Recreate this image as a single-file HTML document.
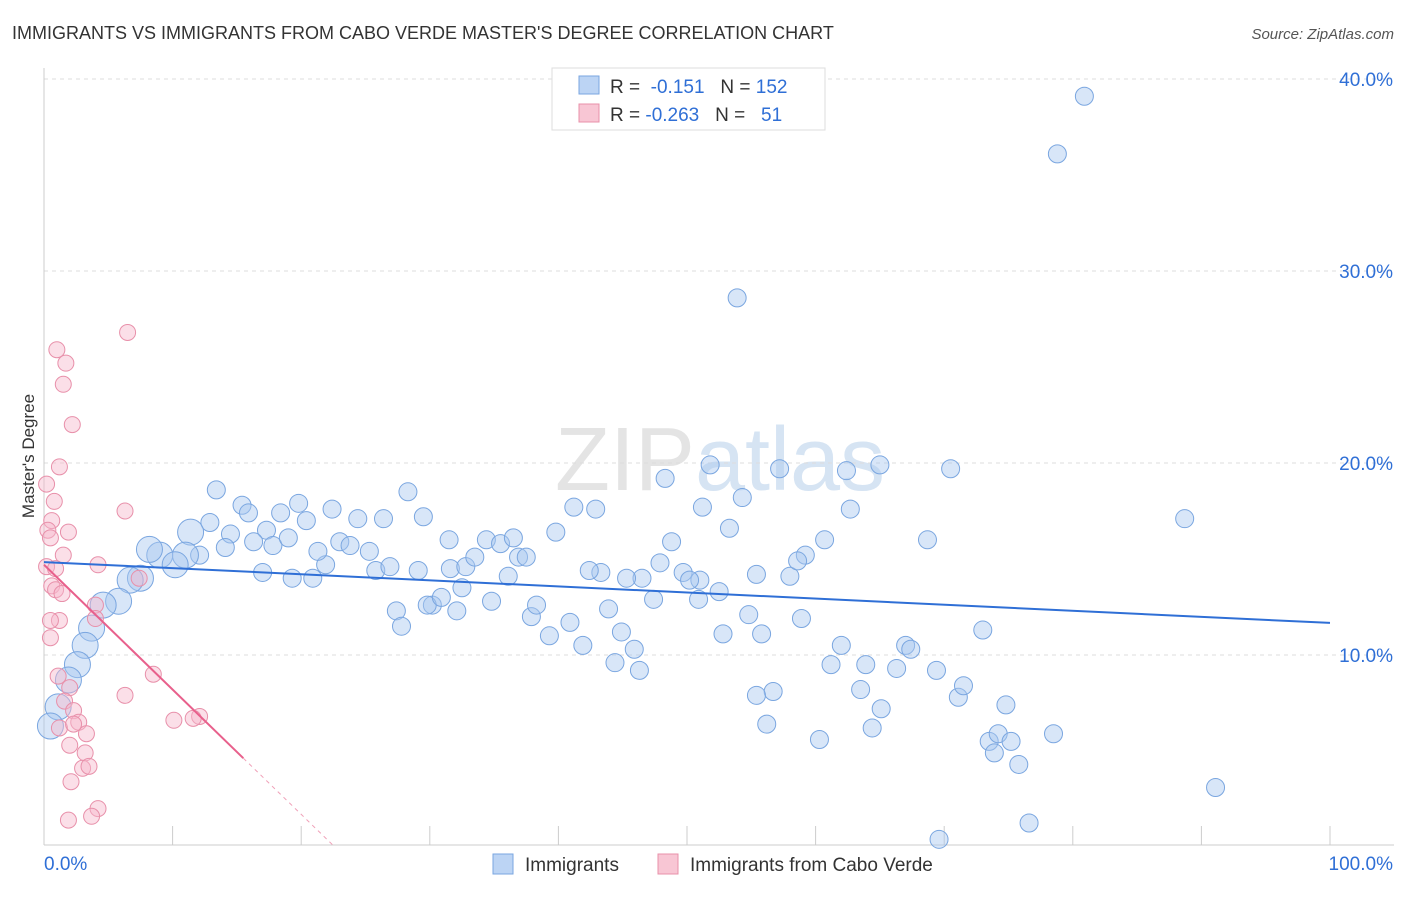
<!DOCTYPE html>
<html><head><meta charset="utf-8"><style>
body{margin:0;background:#fff;font-family:"Liberation Sans",sans-serif}
svg text{font-family:"Liberation Sans",sans-serif}
</style></head><body>
<svg id="chart" width="1406" height="892" viewBox="0 0 1406 892" xmlns="http://www.w3.org/2000/svg">
<text x="12" y="39" font-size="18" fill="#333">IMMIGRANTS VS IMMIGRANTS FROM CABO VERDE MASTER'S DEGREE CORRELATION CHART</text>
<text x="1394" y="39" font-size="15" fill="#555" text-anchor="end" font-style="italic">Source: ZipAtlas.com</text>
<text x="720" y="490" font-size="90" fill="#e4e4e4" text-anchor="middle" font-family="Liberation Serif">ZIP<tspan fill="#d6e4f3" font-family="Liberation Sans">atlas</tspan></text>
<g id="grid"></g>
<g id="axes"></g>
<g id="pts"></g>
<g id="trend"></g>
<text transform="translate(34,456) rotate(-90)" font-size="17" fill="#333" text-anchor="middle">Master's Degree</text>
<g>
<rect x="552" y="68" width="273" height="62" fill="#fff" stroke="#ddd"/>
<rect x="579" y="76" width="20" height="18" fill="#bcd4f4" stroke="#7aa6e0"/>
<rect x="579" y="104" width="20" height="18" fill="#f8c6d4" stroke="#e890aa"/>
<text x="610" y="93" font-size="19" fill="#333">R = <tspan fill="#2f6fd6">&#160;-0.151</tspan>&#160;&#160;&#160;N = <tspan fill="#2f6fd6">152</tspan></text>
<text x="610" y="121" font-size="19" fill="#333">R = <tspan fill="#2f6fd6">-0.263</tspan>&#160;&#160;&#160;N = <tspan fill="#2f6fd6">&#160;&#160;51</tspan></text>
</g>
<g>
<rect x="493" y="854" width="20" height="20" fill="#bcd4f4" stroke="#7aa6e0"/>
<text x="525" y="871" font-size="19" fill="#333">Immigrants</text>
<rect x="658" y="854" width="20" height="20" fill="#f8c6d4" stroke="#e890aa"/>
<text x="690" y="871" font-size="19" fill="#333">Immigrants from Cabo Verde</text>
</g>
</svg>
<script>
const yTicks=[10,20,30,40];
const yTickLabels=["10.0%","20.0%","30.0%","40.0%"];
const xTickLabels=["0.0%","100.0%"];
const blueX=[80.9,78.8,53.9,88.7,91.1,76.6,69.6,51.8,57.2,62.4,65.0,70.5,48.3,51.2,54.3,62.7,53.3,60.7,68.7,41.2,42.9,39.8,48.8,47.9,46.5,51.0,52.5,55.4,58.0,59.2,58.6,49.7,50.2,45.3,43.3,42.4,47.4,50.9,54.8,58.9,43.9,40.9,44.9,39.3,41.9,37.9,38.3,34.8,32.1,30.2,29.8,27.4,27.8,30.9,31.6,32.8,34.4,32.5,33.5,35.5,36.5,36.9,37.5,36.1,31.5,29.1,28.3,29.5,26.4,24.4,22.4,19.8,20.4,18.4,17.3,16.3,17.8,19.0,15.4,15.9,12.9,13.4,11.4,14.5,14.1,12.1,11.0,9.0,8.2,10.2,7.5,6.7,5.8,4.6,3.7,3.2,2.6,1.9,1.1,0.5,17.0,19.3,20.9,21.9,21.3,23.0,23.8,25.3,25.8,26.9,52.8,55.8,56.7,56.2,60.3,62.0,61.2,63.9,63.5,65.1,64.4,66.3,67.0,67.4,69.4,71.1,71.5,73.0,73.5,73.9,74.2,74.8,75.2,75.8,78.5,44.4,46.3,45.9,55.4];
const blueY=[39.1,36.1,28.6,17.1,3.1,1.25,0.4,19.9,19.7,19.6,19.9,19.7,19.2,17.7,18.2,17.6,16.6,16.0,16.0,17.7,17.6,16.4,15.9,14.8,14.0,13.9,13.3,14.2,14.1,15.2,14.9,14.3,13.9,14.0,14.3,14.4,12.9,12.9,12.1,11.9,12.4,11.7,11.2,11.0,10.5,12.0,12.6,12.8,12.3,12.6,12.6,12.3,11.5,13.0,14.5,14.6,16.0,13.5,15.1,15.8,16.1,15.1,15.1,14.1,16.0,14.4,18.5,17.2,17.1,17.1,17.6,17.9,17.0,17.4,16.5,15.9,15.7,16.1,17.8,17.4,16.9,18.6,16.4,16.3,15.6,15.2,15.2,15.2,15.5,14.7,14.0,13.9,12.8,12.6,11.4,10.5,9.5,8.7,7.3,6.3,14.3,14.0,14.0,14.7,15.4,15.9,15.7,15.4,14.4,14.6,11.1,11.1,8.1,6.4,5.6,10.5,9.5,9.5,8.2,7.2,6.2,9.3,10.5,10.3,9.2,7.8,8.4,11.3,5.5,4.9,5.9,7.4,5.5,4.3,5.9,9.6,9.2,10.3,7.9];
const pinkX=[6.5,1.0,1.7,1.5,2.2,1.2,0.2,0.8,6.3,1.9,0.6,0.3,0.5,1.5,4.2,0.2,0.9,0.6,0.9,1.4,7.4,1.2,0.5,4.0,4.0,8.5,6.3,1.1,2.0,1.6,2.3,1.2,2.7,3.3,2.3,10.1,12.1,11.6,2.0,3.2,3.0,3.5,2.1,4.2,3.7,1.9,0.5];
const pinkY=[26.8,25.9,25.2,24.1,22.0,19.8,18.9,18.0,17.5,16.4,17.0,16.5,16.1,15.2,14.7,14.6,14.5,13.6,13.4,13.2,14.0,11.8,10.9,12.6,11.9,9.0,7.9,8.9,8.3,7.6,7.1,6.2,6.5,5.9,6.4,6.6,6.8,6.7,5.3,4.9,4.1,4.2,3.4,2.0,1.6,1.4,11.8];
const blueTrend=[14.84,11.67];
const pinkTrend=[14.7,-0.65,15.5];
const NS="http://www.w3.org/2000/svg";
const X0=44,X1=1330,Y0=847,PPY=19.2;
const sx=v=>X0+(X1-X0)*v/100, sy=v=>Y0-v*PPY;
function mk(t,a,p){const e=document.createElementNS(NS,t);for(const k in a)e.setAttribute(k,a[k]);p.appendChild(e);return e;}
const grid=document.getElementById('grid'),axes=document.getElementById('axes'),pts=document.getElementById('pts'),trend=document.getElementById('trend');
yTicks.forEach((t,i)=>{
 const l=mk('line',{x1:X0,x2:1394,y1:sy(t),y2:sy(t),stroke:'#ddd','stroke-dasharray':'4,4'},grid);
 
 
 const tx=mk('text',{x:1393,y:sy(t)+7,'font-size':19,fill:'#2f6fd6','text-anchor':'end'},axes);
 tx.textContent=yTickLabels[i];
 
 
});
mk('line',{x1:X0,x2:X0,y1:68,y2:845,stroke:'#ccc'},axes);
mk('line',{x1:X0,x2:1394,y1:845,y2:845,stroke:'#ccc'},axes);
for(let i=0;i<=10;i++){const t=mk('line',{x1:sx(i*10),x2:sx(i*10),y1:826,y2:845,stroke:'#ccc'},axes);
 
 }
const xl0=mk('text',{x:44,y:870,'font-size':19,fill:'#2f6fd6'},axes);xl0.textContent=xTickLabels[0];


const xl1=mk('text',{x:1393,y:870,'font-size':19,fill:'#2f6fd6','text-anchor':'end'},axes);xl1.textContent=xTickLabels[1];


blueX.forEach((x,i)=>{const r=x<12?13:9;
 const c=mk('circle',{cx:sx(x),cy:sy(blueY[i]),r:r,fill:'rgba(168,199,240,0.45)',stroke:'#7aa6e0','stroke-width':1},pts);
 
 });
pinkX.forEach((x,i)=>{
 const c=mk('circle',{cx:sx(x),cy:sy(pinkY[i]),r:8,fill:'rgba(246,184,203,0.45)',stroke:'#e890aa','stroke-width':1},pts);
 
 });
const bl=mk('line',{x1:sx(0),y1:sy(blueTrend[0]),x2:sx(100),y2:sy(blueTrend[1]),stroke:'#2f6fd6','stroke-width':2},trend);


const pe=pinkTrend[2],pz=-pinkTrend[0]/pinkTrend[1];
const pl=mk('line',{x1:sx(0),y1:sy(pinkTrend[0]),x2:sx(pe),y2:sy(pinkTrend[0]+pinkTrend[1]*pe),stroke:'#e8608c','stroke-width':2},trend);


const pd=mk('line',{x1:sx(pe),y1:sy(pinkTrend[0]+pinkTrend[1]*pe),x2:sx(pz),y2:sy(0),stroke:'#f0a0b8','stroke-width':1,'stroke-dasharray':'4,4'},trend);


</script>
</body></html>
